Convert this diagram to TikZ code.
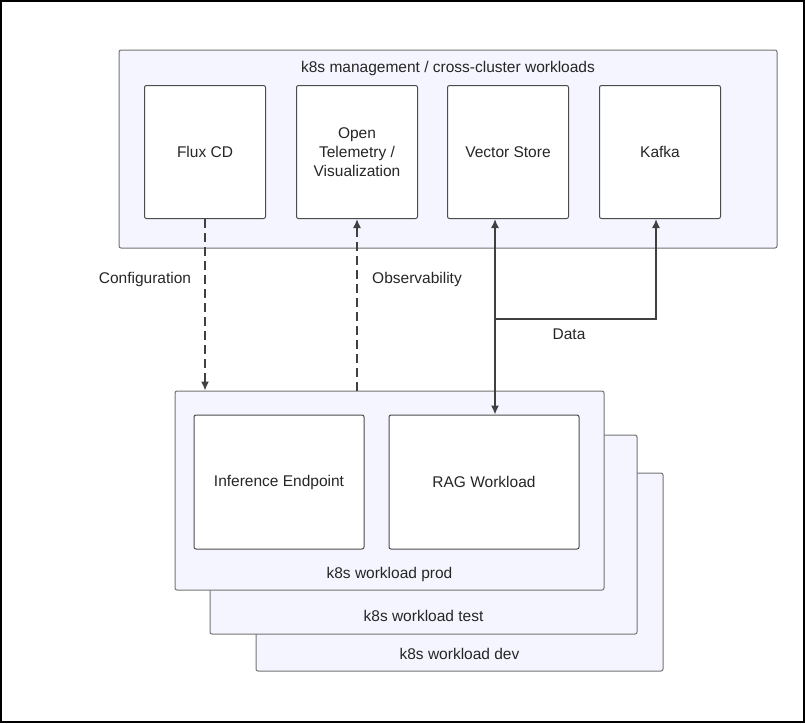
\documentclass[tikz,border=0pt]{standalone}
\usepackage{fontspec}
\setmainfont{Liberation Sans}
\usetikzlibrary{positioning,arrows.meta}

\tikzstyle{cluster}=[draw=black!55, fill=blue!4, rounded corners=2pt, inner sep=0pt, line width=1pt]
\tikzstyle{svc}=[draw=black!70, fill=white, rounded corners=2pt, align=center, inner sep=0pt, line width=1pt, minimum width=121pt, minimum height=133pt]
\tikzstyle{flow}=[-{Latex[length=9pt,width=8pt]}, line width=1.5pt, black!75]

\begin{document}
\begin{tikzpicture}[x=1pt, y=-1pt, font=\fontsize{15.5}{19}\selectfont, text=black!85]
    \useasboundingbox (0, 0) rectangle (805, 723);
    \draw[black, line width=1.5pt] (1, 1) rectangle (804, 722);
    % management cluster
    \node[cluster, minimum width=658pt, minimum height=198pt] (mgmt) at (448, 149) {};
    \node at (448, 68) {k8s management / cross-cluster workloads};
    \node[svc] (flux) at (205, 152) {Flux CD};
    \node[svc] (otel) at (357, 152) {Open\\Telemetry /\\Visualization};
    \node[svc] (vec) at (508, 152) {Vector Store};
    \node[svc] (kafka) at (660, 152) {Kafka};
    % workload clusters
    \node[cluster, minimum width=407pt, minimum height=198pt] (dev) at (459.5, 572) {};
    \node[anchor=base] at (459.5, 659) {k8s workload dev};
    \node[cluster, minimum width=427pt, minimum height=199pt] (test) at (423.5, 534.5) {};
    \node[anchor=base] at (423.5, 621) {k8s workload test};
    \node[cluster, minimum width=429pt, minimum height=199pt] (prod) at (389.5, 490.5) {};
    \node[anchor=base] at (389.5, 578) {k8s workload prod};
    \node[svc, minimum width=170pt, minimum height=134pt] (infer) at (279, 482) {Inference Endpoint};
    \node[svc, minimum width=190pt, minimum height=134pt] (rag) at (484, 482) {RAG Workload};
    % connectors
    \coordinate (join) at (495, 319);
    \coordinate (kin) at (656, 219);
    \draw[flow, dash pattern=on 9pt off 5pt] (flux.south) -- (flux.south |- prod.north);
    \draw[flow, dash pattern=on 9pt off 5pt] (otel.south |- prod.north) -- (otel.south);
    \draw[flow, {Latex[length=9pt,width=8pt]}-{Latex[length=9pt,width=8pt]}] (vec.south -| join) -- (rag.north -| join);
    \draw[flow] (join) -| (kin);
    \node at (145, 279) {Configuration};
    \node at (417, 279) {Observability};
    \node at (569, 334) {Data};
\end{tikzpicture}
\end{document}
